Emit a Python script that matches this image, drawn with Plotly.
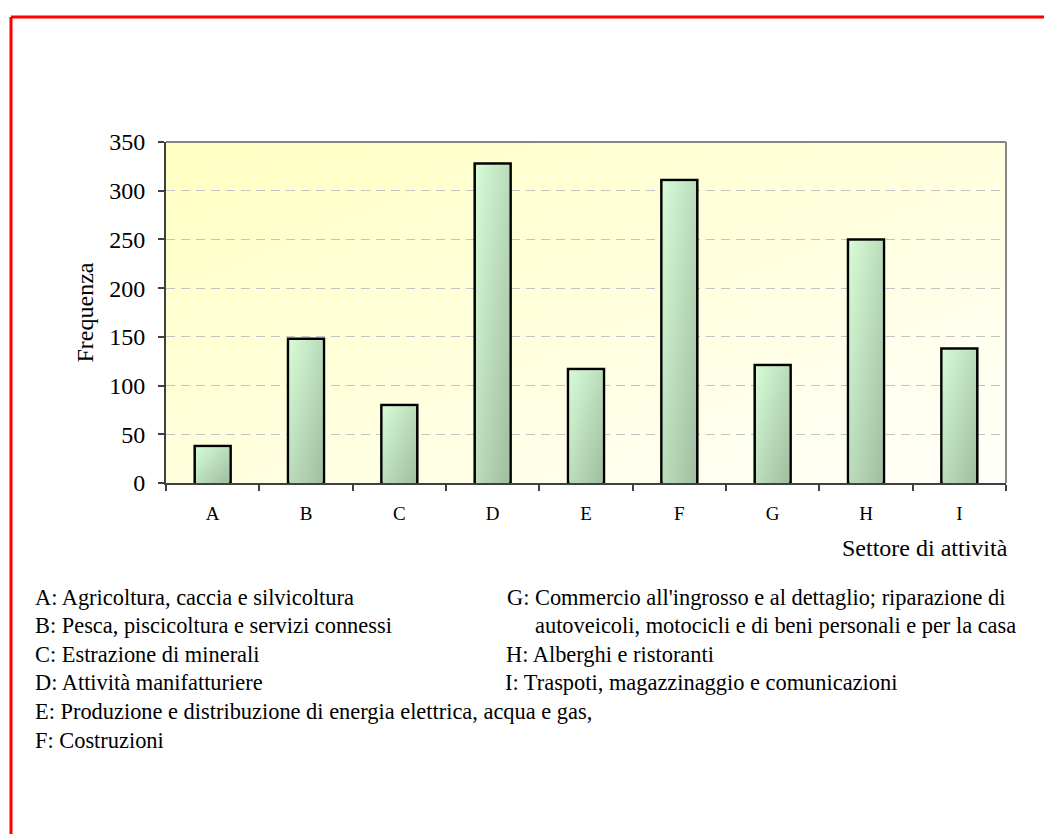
import base64
import plotly.graph_objects as go

# Number of enterprises by sector of activity
categories = ["A", "B", "C", "D", "E", "F", "G", "H", "I"]
frequenze = [38, 148, 80, 328, 117, 311, 121, 250, 138]
y_tick_values = [0, 50, 100, 150, 200, 250, 300, 350]

legend_left = [
    "A: Agricoltura, caccia e silvicoltura",
    "B: Pesca, piscicoltura e servizi connessi",
    "C: Estrazione di minerali",
    "D: Attività manifatturiere",
    "E: Produzione e distribuzione di energia elettrica, acqua e gas,",
    "F: Costruzioni",
]
legend_right = [
    "G: Commercio all'ingrosso e al dettaglio; riparazione di",
    "autoveicoli, motocicli e di beni personali e per la casa",
    "H: Alberghi e ristoranti",
    "I: Traspoti, magazzinaggio e comunicazioni",
]

FONT = "Liberation Serif"
W, H = 1044, 834
L, R, T, B = 166, 38, 142, 351
PW, PH = W - L - R, H - T - B
BAR_W = 0.385
BAR_LINE = 2.5


def gradient_uri(c0, c1):
    svg = (
        '<svg xmlns="http://www.w3.org/2000/svg" width="100" height="100" '
        'viewBox="0 0 100 100" preserveAspectRatio="none">'
        '<defs><linearGradient id="g" x1="0" y1="0" x2="1" y2="1">'
        f'<stop offset="0" stop-color="{c0}"/><stop offset="1" stop-color="{c1}"/>'
        '</linearGradient></defs>'
        '<rect width="100" height="100" fill="url(#g)"/></svg>'
    )
    return "data:image/svg+xml;base64," + base64.b64encode(svg.encode()).decode()


bg_src = gradient_uri("#ffffc2", "#fffffa")
bar_src = gradient_uri("#d6fbd6", "#a0bea0")

fig = go.Figure()
fig.add_trace(
    go.Bar(
        x=categories,
        y=frequenze,
        width=BAR_W,
        marker=dict(color="#bcdcbc", line=dict(color="#000000", width=BAR_LINE)),
        hoverinfo="x+y",
    )
)

n = len(categories)
y_max = 350
# gradient shading inside each bar, inset by half the outline width
inset_x = (BAR_LINE / 2) / (PW / n)
inset_y = (BAR_LINE / 2) / (PH / y_max)
images = [
    dict(source=bg_src, xref="x domain", yref="y domain", x=0, y=1, sizex=1, sizey=1,
         xanchor="left", yanchor="top", sizing="stretch", layer="below")
]
for i, v in enumerate(frequenze):
    images.append(
        dict(
            source=bar_src,
            xref="x domain",
            yref="y",
            x=(i + 0.5 - BAR_W / 2 + inset_x) / n,
            y=v - inset_y,
            sizex=(BAR_W - 2 * inset_x) / n,
            sizey=v - inset_y,
            xanchor="left",
            yanchor="top",
            sizing="stretch",
            layer="above",
        )
    )

annotations = [
    dict(text="Frequenza", xref="paper", yref="paper", x=(84 - L) / PW, y=0.5,
         textangle=-90, showarrow=False, xanchor="center", yanchor="middle",
         font=dict(family=FONT, size=24, color="#000000")),
    dict(text="Settore di attività", xref="paper", yref="paper", x=(1010 - L) / PW,
         y=(T + PH - 548) / PH, showarrow=False, xanchor="right", yanchor="middle",
         font=dict(family=FONT, size=24, color="#000000")),
]

row_y = [597 + 28.6 * k for k in range(6)]
for k, line in enumerate(legend_left):
    annotations.append(
        dict(text=line, xref="paper", yref="paper", x=(33 - L) / PW,
             y=(T + PH - row_y[k]) / PH, showarrow=False, xanchor="left",
             yanchor="middle", font=dict(family=FONT, size=22.4, color="#000000"))
    )
right_x = [505, 532.5, 504, 503]
for k, line in enumerate(legend_right):
    annotations.append(
        dict(text=line, xref="paper", yref="paper", x=(right_x[k] - L) / PW,
             y=(T + PH - row_y[k]) / PH, showarrow=False, xanchor="left",
             yanchor="middle", font=dict(family=FONT, size=22.4, color="#000000"))
    )


def px_x(p):
    return (p - L) / PW


def px_y(p):
    return (T + PH - p) / PH


shapes = [
    # outer red frame (left and top edges)
    dict(type="line", xref="paper", yref="paper", x0=px_x(11), x1=px_x(11),
         y0=px_y(17), y1=px_y(H + 10), line=dict(color="#ff0000", width=3)),
    dict(type="line", xref="paper", yref="paper", x0=px_x(11), x1=px_x(W + 10),
         y0=px_y(17), y1=px_y(17), line=dict(color="#ff0000", width=3)),
    # plot area border (top and right)
    dict(type="line", xref="x domain", yref="y domain", x0=0, x1=1, y0=1, y1=1,
         line=dict(color="#868686", width=2)),
    dict(type="line", xref="x domain", yref="y domain", x0=1, x1=1, y0=0, y1=1,
         line=dict(color="#868686", width=2)),
]

fig.update_layout(
    width=W,
    height=H,
    margin=dict(l=L, r=R, t=T, b=B, pad=0),
    paper_bgcolor="#ffffff",
    plot_bgcolor="rgba(0,0,0,0)",
    showlegend=False,
    bargap=1 - BAR_W,
    images=images,
    annotations=annotations,
    shapes=shapes,
    font=dict(family=FONT, color="#000000"),
    xaxis=dict(
        type="category",
        range=[-0.5, n - 0.5],
        tickson="boundaries",
        ticks="outside",
        ticklen=6,
        tickwidth=1.5,
        tickcolor="#404040",
        showline=True,
        linecolor="#404040",
        linewidth=2,
        showgrid=False,
        tickfont=dict(family=FONT, size=19, color="#000000"),
        ticklabelstandoff=12,
        fixedrange=True,
    ),
    yaxis=dict(
        range=[0, y_max],
        tickvals=y_tick_values,
        ticks="outside",
        ticklen=6,
        tickwidth=1.5,
        tickcolor="#404040",
        showline=True,
        linecolor="#404040",
        linewidth=2,
        showgrid=True,
        gridcolor="#c4c4c4",
        gridwidth=1,
        griddash="9px,6px",
        zeroline=False,
        tickfont=dict(family=FONT, size=24, color="#000000"),
        ticklabelstandoff=8,
        fixedrange=True,
    ),
)

fig.write_html("out.html", config={"displayModeBar": False})
